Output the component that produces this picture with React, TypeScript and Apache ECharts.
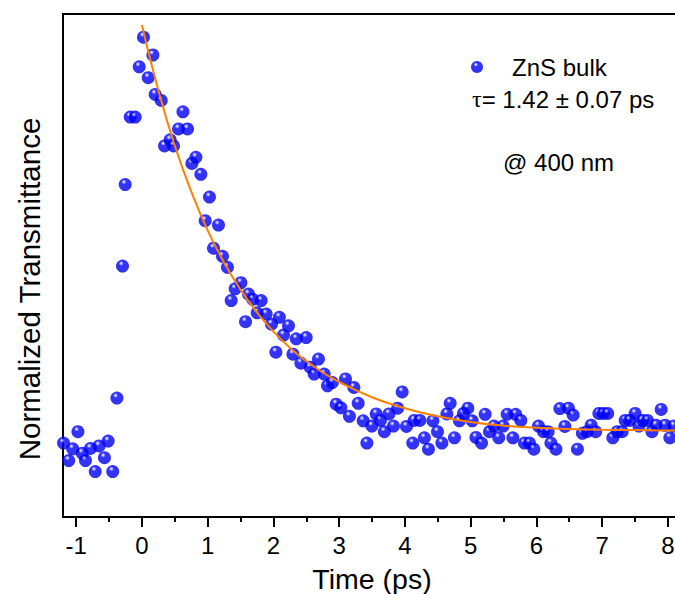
import React, { useEffect, useRef } from "react";
import * as echarts from "echarts";

// Measured delay times (ps)
const timeVals: number[] = [
  -1.192, -1.113, -1.052, -0.973, -0.908, -0.858, -0.782, -0.71, -0.652, -0.57,
  -0.513, -0.444, -0.38, -0.295, -0.254, -0.178, -0.102, -0.041, 0.024, 0.096,
  0.167, 0.202, 0.294, 0.344, 0.43, 0.481, 0.557, 0.624, 0.694, 0.76,
  0.821, 0.897, 0.963, 1.028, 1.089, 1.165, 1.226, 1.302, 1.358, 1.419,
  1.506, 1.576, 1.621, 1.688, 1.754, 1.814, 1.89, 1.971, 2.038, 2.091,
  2.154, 2.23, 2.297, 2.347, 2.418, 2.499, 2.56, 2.62, 2.686, 2.773,
  2.823, 2.897, 2.955, 3.027, 3.097, 3.157, 3.224, 3.29, 3.366, 3.422,
  3.498, 3.564, 3.629, 3.688, 3.758, 3.827, 3.89, 3.959, 4.024, 4.12,
  4.141, 4.228, 4.297, 4.359, 4.426, 4.496, 4.563, 4.639, 4.689, 4.754,
  4.83, 4.891, 4.958, 5.024, 5.081, 5.166, 5.221, 5.287, 5.355, 5.428,
  5.495, 5.556, 5.643, 5.685, 5.764, 5.819, 5.895, 5.962, 6.032, 6.108,
  6.179, 6.221, 6.298, 6.357, 6.433, 6.488, 6.56, 6.625, 6.7, 6.773,
  6.833, 6.902, 6.951, 7.016, 7.085, 7.163, 7.229, 7.305, 7.351, 7.419,
  7.502, 7.56, 7.617, 7.69, 7.758, 7.819, 7.898, 7.959, 8.03, 8.091,
];

// Normalized transmittance (arb. units)
const signalVals: number[] = [
  -0.03, -0.073, -0.044, -0.002, -0.055, -0.073, -0.043, -0.1, -0.037, -0.066,
  -0.025, -0.1, 0.081, 0.406, 0.607, 0.773, 0.773, 0.897, 0.97, 0.87,
  0.926, 0.829, 0.814, 0.702, 0.717, 0.702, 0.744, 0.786, 0.744, 0.659,
  0.674, 0.632, 0.518, 0.576, 0.45, 0.507, 0.43, 0.403, 0.321, 0.35,
  0.365, 0.269, 0.337, 0.324, 0.291, 0.321, 0.288, 0.263, 0.194, 0.28,
  0.236, 0.259, 0.189, 0.227, 0.167, 0.23, 0.157, 0.14, 0.177, 0.14,
  0.111, 0.119, 0.066, 0.057, 0.128, 0.036, 0.107, 0.068, 0.025, -0.03,
  0.012, 0.042, 0.026, -0.002, 0.042, 0.012, 0.056, 0.096, 0.011, -0.03,
  0.026, 0.026, -0.017, -0.045, 0.025, -0.002, -0.03, 0.042, 0.068, -0.017,
  0.025, 0.043, 0.056, 0.025, -0.016, -0.03, 0.041, -0.002, 0.012, -0.017,
  0.012, 0.041, -0.017, 0.041, 0.026, -0.03, -0.03, -0.045, 0.012, -0.002,
  -0.002, -0.03, -0.045, 0.055, 0.011, 0.056, 0.039, -0.045, -0.006, -0.002,
  0.014, -0.002, 0.043, 0.043, 0.043, -0.017, -0.002, -0.002, 0.026, 0.026,
  0.043, 0.012, 0.026, 0.026, -0.002, 0.014, 0.053, 0.014, -0.017, 0.012,
];

// Exponential fit curve (tau = 1.42 ps)
const fitTime: number[] = [
  0, 0.25, 0.5, 0.75, 1, 1.25, 1.5, 1.75, 2, 2.25, 2.5, 2.75, 3, 3.5, 4, 4.5,
  5, 5.5, 6, 6.5, 7, 7.5, 8, 8.2,
];
const fitVals: number[] = [
  1.0, 0.839, 0.703, 0.59, 0.494, 0.415, 0.348, 0.292, 0.245, 0.205, 0.172,
  0.144, 0.121, 0.083, 0.056, 0.036, 0.022, 0.013, 0.008, 0.005, 0.003, 0.002,
  0.001, 0.001,
];

const majorTicks: number[] = [-1, 0, 1, 2, 3, 4, 5, 6, 7, 8];
const minorTicks: number[] = [-0.5, 0.5, 1.5, 2.5, 3.5, 4.5, 5.5, 6.5, 7.5];

const seriesName = "ZnS bulk";
const tauLabel = "= 1.42 ± 0.07 ps";
const waveLabel = "@ 400 nm";
const xTitle = "Time (ps)";
const yTitle = "Normalized Transmittance";

const FONT = "'Liberation Sans', Arial, Helvetica, sans-serif";

export default function App() {
  const ref = useRef<HTMLDivElement>(null);

  useEffect(() => {
    if (!ref.current) return;
    const chart = echarts.init(ref.current, undefined, { renderer: "svg" });

    const ball = new echarts.graphic.RadialGradient(0.4, 0.3, 0.72, [
      { offset: 0, color: "#ffffff" },
      { offset: 0.09, color: "#b0b0ff" },
      { offset: 0.26, color: "#0000ff" },
      { offset: 0.8, color: "#0000f0" },
      { offset: 1, color: "#0000c4" },
    ]);

    const scatterData = timeVals.map((t, i) => [t, signalVals[i]]);
    const fitData = fitTime.map((t, i) => [t, fitVals[i]]);

    chart.setOption({
      animation: false,
      backgroundColor: "#ffffff",
      grid: {
        left: 63,
        top: 14,
        width: 618,
        bottom: 77,
        show: true,
        borderColor: "#000",
        borderWidth: 2,
        backgroundColor: "transparent",
        containLabel: false,
        outerBoundsMode: "none",
      },
      legend: {
        data: [{ name: seriesName, icon: "circle", itemStyle: { color: ball } }],
        left: 471,
        top: 55,
        padding: 0,
        itemWidth: 12,
        itemHeight: 12,
        textStyle: {
          fontSize: 24,
          fontFamily: FONT,
          color: "#000",
          padding: [0, 0, 0, 24],
        },
        selectedMode: false,
      },
      xAxis: [
        {
          type: "value",
          min: -1.2,
          max: 8.2,
          position: "bottom",
          axisLine: { show: true, onZero: false, lineStyle: { color: "#000", width: 2 } },
          axisTick: {
            show: true,
            customValues: majorTicks,
            length: 10,
            lineStyle: { color: "#000", width: 2 },
          },
          axisLabel: {
            customValues: majorTicks,
            fontSize: 24,
            fontFamily: FONT,
            color: "#000",
            margin: 16,
          },
          splitLine: { show: false },
          name: xTitle,
          nameLocation: "middle",
          nameGap: 47,
          nameTextStyle: { fontSize: 28.5, fontFamily: FONT, color: "#000" },
        },
        {
          type: "value",
          min: -1.2,
          max: 8.2,
          position: "bottom",
          axisLine: { show: false, onZero: false },
          axisTick: {
            show: true,
            customValues: minorTicks,
            length: 5,
            lineStyle: { color: "#000", width: 2 },
          },
          axisLabel: { show: false },
          splitLine: { show: false },
        },
      ],
      yAxis: {
        type: "value",
        min: -0.212,
        max: 1.027,
        axisLine: { show: true, onZero: false, lineStyle: { color: "#000", width: 2 } },
        axisTick: { show: false },
        axisLabel: { show: false },
        splitLine: { show: false },
      },
      series: [
        {
          name: seriesName,
          type: "scatter",
          xAxisIndex: 0,
          data: scatterData,
          symbol: "circle",
          symbolSize: 13,
          itemStyle: { color: ball },
          z: 2,
        },
        {
          name: "fit",
          type: "line",
          xAxisIndex: 0,
          data: fitData,
          smooth: true,
          showSymbol: false,
          lineStyle: { color: "#ff8000", width: 2 },
          z: 3,
        },
      ],
      graphic: [
        {
          type: "text",
          x: 29,
          y: 289,
          rotation: Math.PI / 2,
          style: {
            text: yTitle,
            fontSize: 29.5,
            fontFamily: FONT,
            fill: "#000",
            align: "center",
            verticalAlign: "middle",
          },
        },
        {
          type: "text",
          x: 472,
          y: 99,
          style: {
            text: "{tau|τ}" + tauLabel,
            fontSize: 24,
            fontFamily: FONT,
            fill: "#000",
            align: "left",
            verticalAlign: "middle",
            rich: {
              tau: {
                fontSize: 24,
                fontFamily: "'Liberation Serif', 'Times New Roman', serif",
                fill: "#000",
              },
            },
          },
        },
        {
          type: "text",
          x: 503,
          y: 162,
          style: {
            text: waveLabel,
            fontSize: 24,
            fontFamily: FONT,
            fill: "#000",
            align: "left",
            verticalAlign: "middle",
          },
        },
      ],
    });

    return () => chart.dispose();
  }, []);

  return (
    <div
      ref={ref}
      style={{ position: "absolute", left: 0, top: 0, width: 675, height: 594 }}
    />
  );
}
